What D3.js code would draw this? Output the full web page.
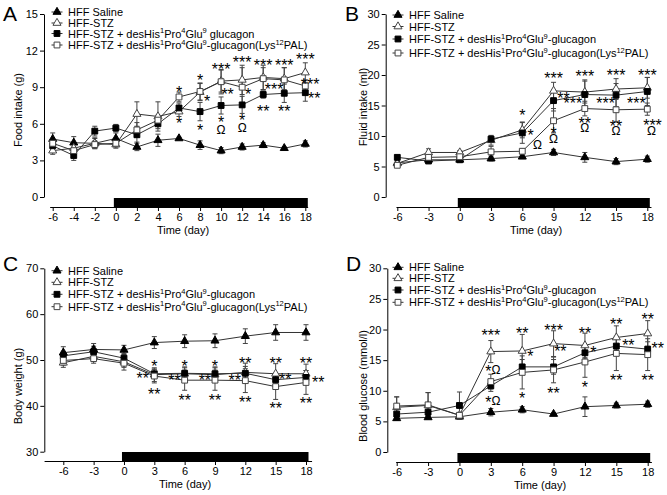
<!DOCTYPE html>
<html>
<head>
<meta charset="utf-8">
<script src="https://cdn.jsdelivr.net/npm/d3@7"></script>
<style>
  body { margin: 0; background: #fff; }
  svg { display: block; font-family: "Liberation Sans", Arial, sans-serif; }
</style>
</head>
<body>
<svg id="chart" width="667" height="495"></svg>
<script>
// ---- data ----
const daysA = [-6, -4, -2, 0, 2, 4, 6, 8, 10, 12, 14, 16, 18];
const daysB = [-6, -3, 0, 3, 6, 9, 12, 15, 18];
const treatment = [0, 18];

const labelsA = ['HFF Saline', 'HFF-STZ', 'HFF-STZ + desHis^1Pro^4Glu^9 glucagon',
  'HFF-STZ + desHis^1Pro^4Glu^9-glucagon(Lys^12PAL)'];
const labels = ['HFF Saline', 'HFF-STZ', 'HFF-STZ + desHis^1Pro^4Glu^9-glucagon',
  'HFF-STZ + desHis^1Pro^4Glu^9-glucagon(Lys^12PAL)'];

// saline, STZ, desHis, Lys12PAL
const foodMean = [
  [4.75, 4.45, 4.4, 4.8, 4.1, 4.65, 4.8, 4.25, 3.8, 4.1, 4.25, 4.0, 4.35],
  [3.8, 4.0, 4.4, 4.3, 6.8, 6.6, 7.0, 8.6, 9.5, 9.6, 9.8, 9.7, 10.2],
  [4.2, 3.4, 5.4, 5.65, 5.1, 6.0, 7.3, 7.0, 7.5, 7.55, 8.4, 8.5, 8.55],
  [4.4, 3.8, 4.3, 4.4, 5.5, 6.3, 8.2, 8.65, 9.45, 9.0, 9.7, 9.6, 9.1]
];
const foodErr = [
  [0.5, 0.5, 0.45, 0.45, 0.3, 0.5, 0.1, 0.35, 0.25, 0.25, 0.2, 0.1, 0.25],
  [0.3, 0.4, 0.4, 0.3, 1.0, 1.2, 0.4, 0.7, 0.9, 1.2, 1.0, 0.9, 0.8],
  [0.4, 0.4, 0.4, 0.3, 0.6, 0.4, 0.4, 0.75, 0.7, 0.7, 0.3, 0.75, 0.7],
  [0.3, 0.3, 0.3, 0.3, 0.6, 0.4, 0.4, 0.7, 1.0, 1.6, 0.9, 1.0, 0.5]
];
const fluidMean = [
  [5.6, 6.1, 6.1, 6.3, 6.6, 7.3, 6.5, 5.8, 6.2],
  [5.5, 7.3, 7.3, 9.3, 11.0, 17.4, 17.2, 17.7, 17.9],
  [6.5, 5.9, 6.1, 9.5, 10.5, 15.8, 16.8, 16.7, 17.3],
  [5.2, 6.5, 6.6, 7.4, 7.5, 12.5, 14.5, 14.3, 14.4]
];
const fluidErr = [
  [0.5, 0.3, 0.3, 0.4, 0.3, 0.5, 0.8, 0.5, 0.5],
  [0.3, 0.6, 0.3, 0.8, 1.3, 1.4, 1.8, 1.7, 1.7],
  [0.3, 0.3, 0.3, 0.4, 1.7, 1.7, 2.4, 1.9, 2.3],
  [0.3, 0.6, 0.4, 0.9, 0.4, 2.0, 1.2, 1.9, 1.0]
];
const weightMean = [
  [51.6, 52.3, 52.2, 53.8, 54.1, 54.2, 55.2, 56.0, 56.0],
  [49.4, 50.8, 49.6, 46.8, 47.0, 46.8, 47.3, 47.0, 47.0],
  [50.9, 51.8, 50.4, 47.0, 47.1, 47.0, 47.1, 45.7, 46.2],
  [49.9, 50.3, 49.3, 46.5, 45.6, 45.6, 45.5, 44.2, 45.1]
];
const weightErr = [
  [1.3, 1.3, 1.0, 1.3, 1.4, 1.5, 1.6, 1.7, 1.7],
  [1.0, 1.0, 1.2, 1.5, 1.5, 1.5, 2.0, 2.2, 2.1],
  [1.0, 1.2, 1.0, 1.0, 1.2, 1.5, 1.5, 1.3, 1.5],
  [1.0, 1.0, 1.5, 1.5, 2.2, 2.2, 2.6, 2.8, 2.6]
];
const glucoseMean = [
  [5.5, 5.65, 5.75, 6.5, 6.9, 6.2, 7.4, 7.6, 7.8],
  [7.3, 7.6, 6.0, 16.4, 16.5, 17.7, 17.4, 18.7, 19.35],
  [6.2, 6.5, 7.6, 10.8, 13.9, 13.9, 16.2, 17.3, 16.8],
  [7.5, 7.7, 6.0, 11.5, 13.0, 13.4, 14.7, 16.1, 15.9]
];
const glucoseErr = [
  [0.3, 0.3, 0.3, 0.6, 0.5, 0.2, 1.6, 0.4, 0.5],
  [1.7, 2.1, 0.4, 1.8, 2.7, 2.1, 2.0, 1.9, 2.1],
  [0.7, 0.7, 2.2, 0.9, 1.2, 1.2, 1.0, 1.2, 1.2],
  [1.5, 2.0, 0.3, 1.2, 2.7, 2.1, 2.5, 2.8, 2.6]
];

// significance marks: [day, value, text]
const foodMarks = [
  [6, 8.85, '*'], [6, 6.3, '*'],
  [8, 9.9, '*'], [8.67, 8.1, '*'], [8, 5.8, '*'],
  [10, 10.8, '***'], [10.62, 8.7, '**'], [10, 6.4, '*'], [10, 5.5, 'Ω'],
  [12, 11.3, '***'], [12.57, 8.7, '*'], [12, 6.55, '*'], [12, 5.65, 'Ω'],
  [14, 11.05, '***'], [15.04, 9.1, '***'], [14, 7.3, '**'],
  [16, 11.05, '***'], [16, 7.3, '**'],
  [18, 11.6, '***'], [18.46, 9.5, '***'], [18.84, 8.35, '**']
];
const fluidMarks = [
  [6, 14.0, '*'], [6.8, 10.7, '*'], [7.45, 8.5, 'Ω'],
  [9, 20.0, '***'], [9.95, 16.7, '**'], [9, 11.1, '*'], [9, 9.6, 'Ω'],
  [12, 20.3, '***'], [10.85, 15.9, '***'], [12, 12.6, '**'], [12, 11.4, 'Ω'],
  [15, 20.5, '***'], [14.0, 15.9, '***'], [15, 12.2, '**'], [15, 10.9, 'Ω'],
  [18, 20.5, '***'], [16.95, 15.9, '***'], [18.5, 12.3, '***'], [18.4, 10.9, 'Ω']
];
const weightMarks = [
  [3, 49.4, '*'], [1.85, 46.8, '**'], [3, 43.2, '**'],
  [6, 49.5, '*'], [5.0, 46.4, '**'], [6, 42.0, '**'],
  [9, 49.5, '*'], [8.0, 46.4, '**'], [9, 42.0, '**'],
  [12, 50.0, '**'], [10.95, 46.4, '**'], [12, 41.6, '**'],
  [15, 50.1, '**'], [15.95, 46.5, '**'], [15, 40.3, '**'],
  [18, 50.1, '**'], [19.2, 46.0, '**'], [18, 41.3, '**']
];
const glucoseMarks = [
  [3, 19.6, '***'], [3.2, 13.4, '*Ω'], [3.2, 8.4, '*Ω'],
  [6, 19.95, '**'], [6.78, 16.2, '*'], [6, 9.3, '*'],
  [9, 20.5, '***'], [9.65, 17.0, '**'], [9, 10.2, '**'],
  [12, 20.0, '**'], [12.8, 16.8, '*'], [12, 11.2, '*'],
  [15, 21.5, '**'], [16.15, 18.0, '**'], [15, 12.3, '**'],
  [18, 22.2, '**'], [18.95, 17.5, '**'], [18, 12.3, '**']
];

// ---- layout ----
const panels = [
  { letter: 'A', lx: 3, ly: 21, axisX: 44, yT: 14, yB: 197, xL: 52.7, xR: 305.3, axisY: 207,
    xLo: -6.24, xHi: 18.27, legX: 57, legY: [12, 23, 33.5, 45], titleX: 183, ylabX: 18, ylabY: 110,
    days: daysA, mean: foodMean, err: foodErr, marks: foodMarks, labels: labelsA,
    yDomain: [0, 15], yTicks: [0, 3, 6, 9, 12, 15], ylab: 'Food intake (g)' },
  { letter: 'B', lx: 345, ly: 21, axisX: 385.7, yT: 14, yB: 197, xL: 397.3, xR: 647.3, axisY: 207,
    xLo: -6.08, xHi: 18.4, legX: 398, legY: [15, 26.5, 39, 53], titleX: 536, ylabX: 363, ylabY: 107,
    days: daysB, mean: fluidMean, err: fluidErr, marks: fluidMarks, labels: labels,
    yDomain: [0, 30], yTicks: [0, 5, 10, 15, 20, 25, 30], ylab: 'Fluid intake (ml)' },
  { letter: 'C', lx: 3, ly: 271, axisX: 44.3, yT: 268.3, yB: 451.7, xL: 63.3, xR: 306, axisY: 461,
    xLo: -7.85, xHi: 18.6, legX: 57, legY: [270.7, 282.3, 294.3, 306.7], titleX: 185, ylabX: 18, ylabY: 386,
    days: daysB, mean: weightMean, err: weightErr, marks: weightMarks, labels: labels,
    yDomain: [30, 70], yTicks: [30, 40, 50, 60, 70], ylab: 'Body weight (g)' },
  { letter: 'D', lx: 346, ly: 271, axisX: 387.3, yT: 268.3, yB: 452, xL: 396.7, xR: 647.7, axisY: 462,
    xLo: -6.05, xHi: 18.4, legX: 398, legY: [267.3, 278.3, 290, 302.3], titleX: 540, ylabX: 363, ylabY: 386,
    days: daysB, mean: glucoseMean, err: glucoseErr, marks: glucoseMarks, labels: labels,
    yDomain: [0, 30], yTicks: [0, 5, 10, 15, 20, 25, 30], ylab: 'Blood glucose (mmol/l)' }
];

const symType = [d3.symbolTriangle, d3.symbolTriangle, d3.symbolSquare, d3.symbolSquare];
const symSize = [28, 28, 34, 34];
const symFill = ['#000', '#fff', '#000', '#fff'];
const symStroke = ['#000', '#444', '#000', '#444'];

const svg = d3.select('#chart');

function richText(sel, str) {
  let up = false;
  str.split(/\^(\d+)/).forEach((s, i) => {
    if (!s) return;
    const t = sel.append('tspan').text(s);
    if (i % 2 === 1) {
      t.attr('font-size', 7.5);
      if (!up) { t.attr('dy', -4.5); up = true; }
    } else if (up) {
      t.attr('dy', 4.5);
      up = false;
    }
  });
}

function drawMark(g, x, y, m) {
  const [d, v, s] = m;
  const t = g.append('text').attr('x', x(d)).attr('text-anchor', 'middle').attr('fill', '#000');
  if (s.includes('Ω')) {
    t.attr('y', y(v) + 4.3);
    s.split('').forEach(c => {
      if (c === '*') t.append('tspan').attr('font-size', 16).attr('dy', 3).text(c);
      else t.append('tspan').attr('font-size', 12).attr('dy', s.length > 1 ? -3 : 0).text(c);
    });
  } else {
    t.attr('y', y(v) + 9.3).attr('font-size', 16).text(s);
  }
}

function drawPanel(p) {
  const g = svg.append('g');
  const x = d3.scaleLinear().domain([-6, 18]).range([p.xL, p.xR]);
  const y = d3.scaleLinear().domain(p.yDomain).range([p.yB, p.yT]);

  // panel letter
  g.append('text').attr('x', p.lx).attr('y', p.ly).attr('font-size', 21).text(p.letter);

  // y axis
  const ya = g.append('g').attr('transform', `translate(${p.axisX},0)`)
    .call(d3.axisLeft(y).tickValues(p.yTicks).tickSize(4).tickSizeOuter(0).tickPadding(2)
      .tickFormat(d => String(d)));
  // x axis
  const xa = g.append('g').attr('transform', `translate(0,${p.axisY})`)
    .call(d3.axisBottom(x).tickValues(p.days).tickSize(4).tickPadding(2).tickFormat(d => String(d)));
  xa.select('.domain').remove();
  g.append('line').attr('x1', x(p.xLo)).attr('x2', x(p.xHi))
    .attr('y1', p.axisY + 0.5).attr('y2', p.axisY + 0.5).attr('stroke', '#000');
  [ya, xa].forEach(a => {
    a.selectAll('text').attr('font-size', 11).attr('font-family', 'Liberation Sans, Arial, sans-serif').attr('fill', '#000');
    a.selectAll('line,path').attr('stroke', '#000');
  });

  // treatment bar
  g.append('rect').attr('x', x(treatment[0]) - 2).attr('y', p.axisY - 9)
    .attr('width', x(treatment[1]) - x(treatment[0]) + 4.5).attr('height', 9).attr('fill', '#000');

  // axis titles
  g.append('text').attr('x', p.titleX).attr('y', p.axisY + 27).attr('text-anchor', 'middle')
    .attr('font-size', 11).text('Time (day)');
  g.append('text').attr('transform', `translate(${p.ylabX + 4},${p.ylabY}) rotate(-90)`)
    .attr('text-anchor', 'middle').attr('font-size', 11).text(p.ylab);

  // lines and error bars
  const line = d3.line().x(d => x(d[0])).y(d => y(d[1]));
  p.mean.forEach((vals, k) => {
    const pts = vals.map((v, i) => [p.days[i], v, p.err[k][i]]);
    g.append('path').datum(pts).attr('d', line).attr('fill', 'none').attr('stroke', '#333').attr('stroke-width', 1);
    const eb = g.append('g').attr('stroke', '#444').attr('stroke-width', 1);
    pts.forEach(([d, v, e]) => {
      const cx = x(d);
      eb.append('line').attr('x1', cx).attr('x2', cx).attr('y1', y(v - e)).attr('y2', y(v + e));
      eb.append('line').attr('x1', cx - 2.5).attr('x2', cx + 2.5).attr('y1', y(v + e)).attr('y2', y(v + e));
      eb.append('line').attr('x1', cx - 2.5).attr('x2', cx + 2.5).attr('y1', y(v - e)).attr('y2', y(v - e));
    });
  });
  // symbols
  p.mean.forEach((vals, k) => {
    g.append('g').selectAll('path').data(vals).join('path')
      .attr('transform', (v, i) => `translate(${x(p.days[i])},${y(v)})`)
      .attr('d', d3.symbol().type(symType[k]).size(symSize[k]))
      .attr('fill', symFill[k]).attr('stroke', symStroke[k]).attr('stroke-width', 1);
  });

  // significance marks
  const mg = g.append('g');
  p.marks.forEach(m => drawMark(mg, x, y, m));

  // legend
  p.labels.forEach((lab, k) => {
    const ly = p.legY[k];
    g.append('line').attr('x1', p.legX - 5.5).attr('x2', p.legX + 5.5).attr('y1', ly).attr('y2', ly).attr('stroke', '#333');
    g.append('path').attr('transform', `translate(${p.legX},${ly})`)
      .attr('d', d3.symbol().type(symType[k]).size(symSize[k]))
      .attr('fill', symFill[k]).attr('stroke', symStroke[k]);
    const t = g.append('text').attr('x', p.legX + 11).attr('y', ly + 4).attr('font-size', 11);
    richText(t, lab);
  });
}

panels.forEach(drawPanel);
</script>
</body>
</html>
